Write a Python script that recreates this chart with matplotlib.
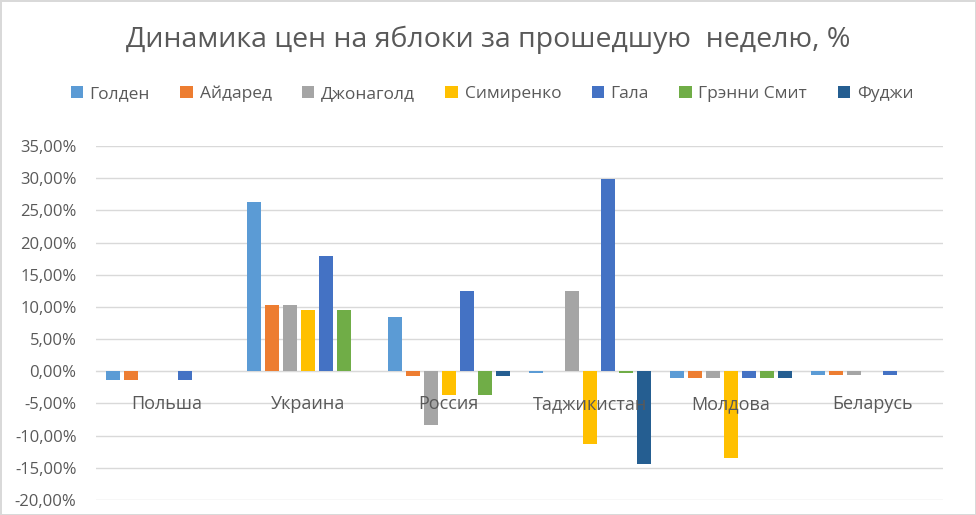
import matplotlib.pyplot as plt
import numpy as np
from matplotlib.ticker import FuncFormatter

plt.rcParams['font.family'] = ['Open Sans', 'DejaVu Sans']

countries = ['Польша', 'Украина', 'Россия', 'Таджикистан', 'Молдова', 'Беларусь']
sorts = ['Голден', 'Айдаред', 'Джонаголд', 'Симиренко', 'Гала', 'Грэнни Смит', 'Фуджи']

# % change per sort, one value per country
golden = [-1.3, 26.3, 8.4, -0.2, -1.0, -0.6]
idared = [-1.3, 10.3, -0.8, 0.0, -1.0, -0.6]
jonagold = [0.0, 10.3, -8.4, 12.4, -1.0, -0.6]
simirenko = [0.0, 9.5, -3.7, -11.3, -13.5, 0.0]
gala = [-1.3, 17.9, 12.4, 29.9, -1.0, -0.6]
granny = [0.0, 9.5, -3.7, -0.2, -1.0, 0.0]
fuji = [0.0, 0.0, -0.8, -14.4, -1.0, 0.0]

series = [golden, idared, jonagold, simirenko, gala, granny, fuji]
colors = ['#5B9BD5', '#ED7D31', '#A5A5A5', '#FFC000', '#4472C4', '#70AD47', '#255E91']

text_col = '#595959'
grid_col = '#D9D9D9'

fig = plt.figure(figsize=(9.76, 5.15), dpi=100)
fig.patch.set_edgecolor('#D9D9D9')
fig.patch.set_linewidth(2)
ax = fig.add_axes([0.0984, 0.0291, 0.8676, 0.6874])

x = np.arange(len(countries))
step = 0.1275
width = 0.099
for i, (vals, c, name) in enumerate(zip(series, colors, sorts)):
    ax.bar(x + (i - 3) * step, vals, width, color=c, label=name, zorder=3)

ax.set_xlim(-0.5, len(countries) - 0.5)
ax.set_ylim(-20, 35)
ax.set_yticks(np.arange(-20, 36, 5))
ax.yaxis.set_major_formatter(FuncFormatter(lambda v, p: f'{v:.2f}%'.replace('.', ',')))
ax.grid(axis='y', color=grid_col, lw=1, zorder=0)
for s in ['top', 'right', 'left']:
    ax.spines[s].set_visible(False)
ax.spines['bottom'].set_position(('data', 0))
ax.spines['bottom'].set_color(grid_col)
ax.set_xticks(x)
ax.set_xticklabels(countries)
ax.xaxis.set_zorder(5)
ax.tick_params(axis='x', length=0, pad=17, labelsize=13, colors=text_col)
ax.tick_params(axis='y', length=0, pad=14, labelsize=12, colors=text_col)

fig.suptitle('Динамика цен на яблоки за прошедшую  неделю, %', y=0.95,
             fontsize=20.5, color=text_col)
fig.legend(loc='center', bbox_to_anchor=(0.504, 0.818), ncol=7, frameon=False,
           fontsize=12.5, labelcolor=text_col, handlelength=0.7, handleheight=0.7,
           handletextpad=0.4, columnspacing=1.75)

fig.savefig('out.png', dpi=100)
